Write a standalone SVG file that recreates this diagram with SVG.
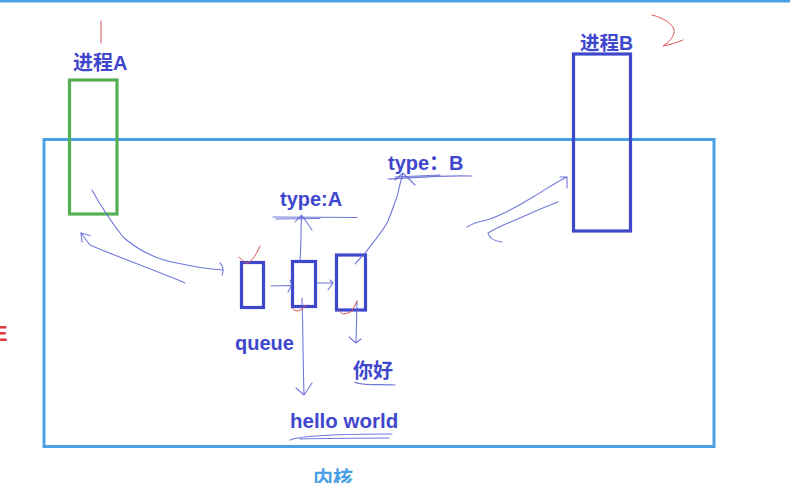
<svg xmlns="http://www.w3.org/2000/svg" width="790" height="483" viewBox="0 0 790 483">
<defs>
<style>
.lbl{font-family:"Liberation Sans","Noto Sans CJK SC",sans-serif;font-weight:bold;fill:#3f48cc}
.box{fill:none;stroke:#3f48cc;stroke-width:3.2}
.ink{fill:none;stroke:#5860d4;stroke-width:1.1;stroke-linecap:round;stroke-linejoin:round;opacity:0.85}
.red{fill:none;stroke:#e05050;stroke-width:1;stroke-linecap:round}
</style>
</defs>
<rect x="0" y="0" width="790" height="2.5" fill="#4a9fe2"/>
<line class="red" x1="101" y1="21" x2="101" y2="43"/>
<path class="red" d="M652,15 C665,18 676,26 674,33 C672,40 666,44 663,46 C670,45 677,42 683,40"/>
<text x="-7" y="341" font-family="Liberation Sans,sans-serif" font-weight="bold" font-size="22" fill="#e03c3c">E</text>

<g id="kernel">
<rect x="44" y="139.5" width="670" height="307" fill="none" stroke="#4aa0e4" stroke-width="3"/>
<text x="313" y="486" font-family="Liberation Sans,Noto Sans CJK SC,sans-serif" font-weight="bold" font-size="20" fill="#4aa0e4">内核</text>
</g>

<g id="processA">
<rect x="69.5" y="80" width="47.5" height="134" fill="none" stroke="#55b055" stroke-width="3.2"/>
<text class="lbl" x="73" y="69.5" font-size="20">进程A</text>
</g>

<g id="processB">
<rect x="573.5" y="54" width="57" height="177" class="box"/>
<text class="lbl" x="580" y="49.5" font-size="19.5">进程B</text>
</g>

<g id="queue1"><rect x="241.5" y="262.5" width="22" height="45" class="box"/></g>
<g id="queue2"><rect x="292.5" y="261.5" width="23" height="45" class="box"/></g>
<g id="queue3"><rect x="336.5" y="255" width="29" height="55" class="box"/></g>
<g id="queueLabel"><text class="lbl" x="235" y="349.5" font-size="20">queue</text></g>

<g id="typeA">
<text class="lbl" x="280" y="206" font-size="20">type:A</text>
<path class="ink" d="M273,217 L357,217.5 M276,219 L320,218.5"/>
</g>
<g id="typeB">
<text class="lbl" x="388" y="170" font-size="20">type：B</text>
<path class="ink" d="M388,179 C410,178 440,175 472,176 M395,177 L440,175"/>
</g>
<g id="nihao">
<text class="lbl" x="353" y="378" font-size="20">你好</text>
<path class="ink" d="M355,382 C360,386 380,384 395,385"/>
</g>
<g id="helloworld">
<text class="lbl" x="290" y="428" font-size="20.5">hello world</text>
<path class="ink" d="M290,440 C300,436 340,434 392,434 M300,439 C330,438 360,438 389,438"/>
</g>

<g id="connectors">
<path class="ink" d="M92,190 C100,205 110,220 123,237 C140,252 160,260 177,263 C195,267 210,269 223,270"/>
<path class="ink" d="M220,263 C223,266 224,270 222,275"/>
<path class="ink" d="M185,283 C160,272 120,258 90,245 L81,233"/>
<path class="ink" d="M81,233 L90,235.5 M81,233 L82,242"/>
<path class="ink" d="M271,286 L291,285.5 M290,280 L292,285 L288,292"/>
<path class="ink" d="M317,283 L333,283 M330,280 L333,283 L328,290"/>
<path class="ink" d="M300,262 C301,245 301,228 301.5,215 M295,222 L301.5,215 L312,230"/>
<path class="ink" d="M302,298 C303,330 303,360 304,395 M296,388 L304,395 L312,383"/>
<path class="ink" d="M357,301 L356,343 M349,337 L356,343 L361,339"/>
<path class="ink" d="M355,264 C358,260 362,257 365,253 C375,240 382,232 387,223 C392,212 394,204 397,197 C399,188 401,180 403,173 M395,180 L403,173 L415,185"/>
<path class="ink" d="M467,227 C475,222 482,221 487,220 C505,214 520,205 533,197 C545,190 556,182 567,177 M560,177 L567,177 L567,188"/>
<path class="ink" d="M558,202 C545,207 535,211 527,215 C515,220 500,226 488,233 C489,238 494,241 502,242"/>
<path class="red" d="M239,257 C242,260 245,263 248,263 C253,260 257,253 260,246"/>
<path class="red" d="M292,308 C294,310 296,311 298,311 C301,310 304,308 306,305"/>
<path class="red" d="M340,311 C341,313 342,314 344,314 C348,313 351,312 352,311 C354,308 355,304 357,301"/>
</g>
</svg>
